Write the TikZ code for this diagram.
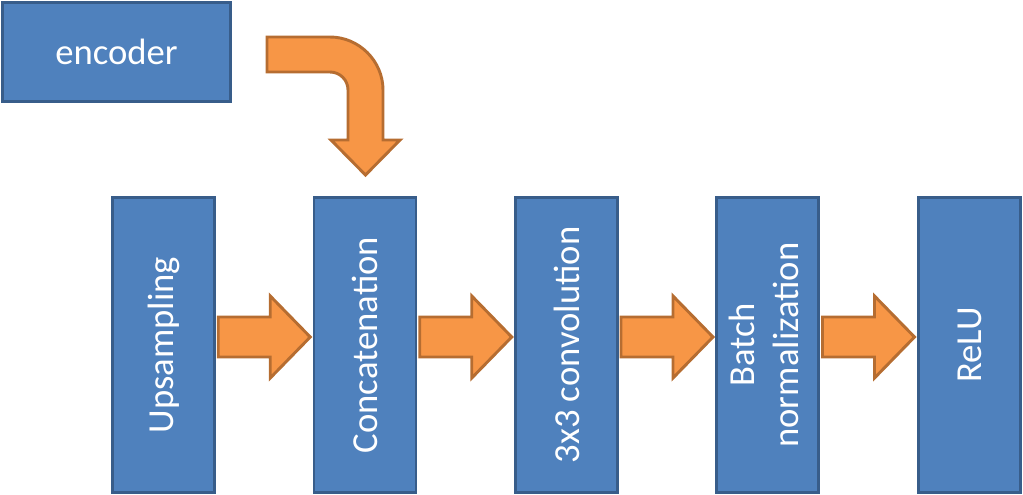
\documentclass[tikz,border=0pt]{standalone}
\usepackage{fontspec}
\setmainfont{Carlito}
\usetikzlibrary{calc}
\definecolor{boxfill}{HTML}{4F81BD}
\definecolor{boxline}{HTML}{385D8A}
\definecolor{arrfill}{HTML}{F79646}
\definecolor{arrline}{HTML}{B66D31}
\tikzset{
  blk/.style={draw=boxline, fill=boxfill, line width=2.2pt, rectangle, inner sep=0pt,
    text=white, font=\fontsize{27.5}{33}\selectfont, align=center,
    minimum width=76.5pt, minimum height=221pt},
  bent/.style={draw=arrline, fill=arrfill, line width=2.2pt, line join=miter},
  blockarrow/.pic={
    \draw[bent] (-46,-20) -- (6,-20) -- (6,-41) -- (46,0) -- (6,41) -- (6,20) -- (-46,20) -- cycle;
  }
}
\begin{document}
\begin{tikzpicture}[x=0.75pt, y=-0.75pt]
\useasboundingbox (0,0) rectangle (1023,494);
% encoder
\node[blk, minimum width=171pt, minimum height=74pt] (enc) at (116.5,52) {\raisebox{-3pt}{encoder}};
% blocks
\node[blk] (up)  at (163.5,345) {\rotatebox{90}{Upsampling}};
\node[blk] (cat) at (365,345) {\rotatebox{90}{Concatenation}};
\node[blk] (cnv) at (566.5,345) {\rotatebox{90}{3x3 convolution}};
\node[blk] (bn)  at (767.5,345) {\rotatebox{90}{\begin{tabular}{@{}c@{}}Batch\\normalization\end{tabular}}};
\node[blk] (relu) at (969.5,345) {\rotatebox{90}{ReLU}};
% straight block arrows
\coordinate (m1) at ($(up.east)!0.5!(cat.west)+(0,-8)$);
\coordinate (m2) at ($(cat.east)!0.5!(cnv.west)+(0,-8)$);
\coordinate (m3) at ($(cnv.east)!0.5!(bn.west)+(0,-8)$);
\coordinate (m4) at ($(bn.east)!0.5!(relu.west)+(0,-8)$);
\pic at (m1) {blockarrow};
\pic at (m2) {blockarrow};
\pic at (m3) {blockarrow};
\pic at (m4) {blockarrow};
% bent arrow from encoder to concatenation
\draw[bent] (267,37) -- (330,37) .. controls (359,37) and (383,61) .. (383,90)
  -- (383,140) -- (400,140) -- (365.5,175) -- (331,140) -- (348,140) -- (348,90)
  .. controls (348,80) and (340,72) .. (330,72) -- (267,72) -- cycle;
\end{tikzpicture}
\end{document}
